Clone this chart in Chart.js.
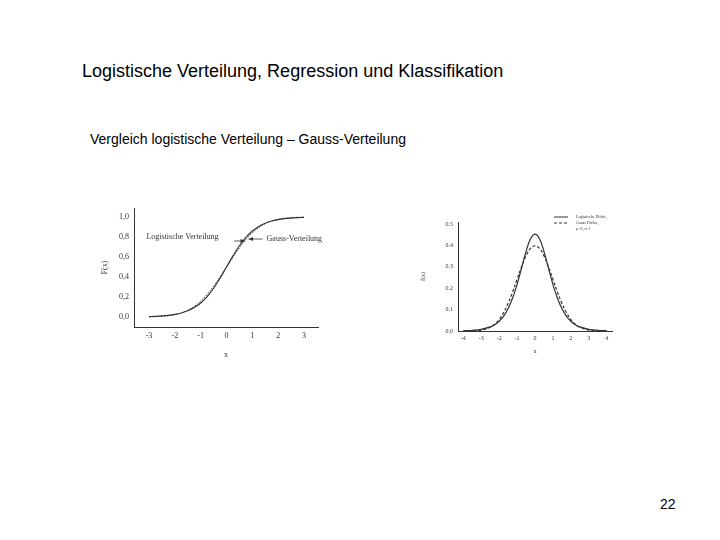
<!DOCTYPE html>
<html>
<head>
<meta charset="utf-8">
<script src="https://cdn.jsdelivr.net/npm/chart.js@4"></script>
<style>
  body { margin: 0; width: 720px; height: 540px; background: #fff; position: relative; font-family: "Liberation Sans", Arial, sans-serif; }
  .title { position: absolute; left: 82px; top: 61px; font-size: 18px; color: #000; }
  .sub { position: absolute; left: 90px; top: 131px; font-size: 14px; color: #000; }
  .page { position: absolute; left: 660px; top: 496px; font-size: 14px; color: #000; }
  #cdf { position: absolute; left: 100px; top: 200px; }
  #pdf { position: absolute; left: 420px; top: 205px; }
</style>
</head>
<body>
<div class="title">Logistische Verteilung, Regression und Klassifikation</div>
<div class="sub">Vergleich logistische Verteilung – Gauss-Verteilung</div>
<div class="page">22</div>
<canvas id="cdf" width="240" height="160"></canvas>
<canvas id="pdf" width="200" height="150"></canvas>
<script>
// left chart: distribution functions
const cdfX = [-3, -2.75, -2.5, -2.25, -2, -1.75, -1.5, -1.25, -1, -0.75, -0.5, -0.25, 0,
  0.25, 0.5, 0.75, 1, 1.25, 1.5, 1.75, 2, 2.25, 2.5, 2.75, 3]
const cdfLogistic = [0.0043, 0.0068, 0.0106, 0.0166, 0.0259, 0.0401, 0.0618, 0.0939, 0.140, 0.2042, 0.2876, 0.3885, 0.5,
  0.6115, 0.7124, 0.7958, 0.860, 0.9061, 0.9382, 0.9599, 0.9741, 0.9834, 0.9894, 0.9932, 0.9957]
const cdfGauss = [0.0013, 0.0030, 0.0062, 0.0122, 0.0228, 0.0401, 0.0668, 0.1056, 0.1587, 0.2266, 0.3085, 0.4013, 0.5,
  0.5987, 0.6915, 0.7734, 0.8413, 0.8944, 0.9332, 0.9599, 0.9772, 0.9878, 0.9938, 0.9970, 0.9987]
const cdfXTicks = [-3, -2, -1, 0, 1, 2, 3]
const cdfYTicks = [0, 0.2, 0.4, 0.6, 0.8, 1.0]

// right chart: densities
const pdfX = [-4, -3.5, -3, -2.5, -2.25, -2, -1.75, -1.5, -1.25, -1, -0.75, -0.5, -0.25, 0,
  0.25, 0.5, 0.75, 1, 1.25, 1.5, 1.75, 2, 2.25, 2.5, 3, 3.5, 4]
const pdfLogistic = [0.0013, 0.0032, 0.0078, 0.0190, 0.0296, 0.0458, 0.0699, 0.1052, 0.1544, 0.2185, 0.2949, 0.3718, 0.4312, 0.4535,
  0.4312, 0.3718, 0.2949, 0.2185, 0.1544, 0.1052, 0.0699, 0.0458, 0.0296, 0.0190, 0.0078, 0.0032, 0.0013]
const pdfGauss = [0.0001, 0.0009, 0.0044, 0.0175, 0.0317, 0.0540, 0.0863, 0.1295, 0.1826, 0.2420, 0.3011, 0.3521, 0.3867, 0.3989,
  0.3867, 0.3521, 0.3011, 0.2420, 0.1826, 0.1295, 0.0863, 0.0540, 0.0317, 0.0175, 0.0044, 0.0009, 0.0001]
const pdfXTicks = [-4, -3, -2, -1, 0, 1, 2, 3, 4]
const pdfYTicks = [0, 0.1, 0.2, 0.3, 0.4, 0.5]

const serif = '"Liberation Serif", "DejaVu Serif", serif'
const ink = '#333'

function points(xs, ys) {
  return xs.map((x, i) => ({ x: x, y: ys[i] }))
}

function fixedTicks(values) {
  return (scale) => { scale.ticks = values.map(v => ({ value: v })) }
}

function arrow(ctx, x1, y1, x2, y2) {
  ctx.beginPath()
  ctx.moveTo(x1, y1)
  ctx.lineTo(x2, y2)
  ctx.stroke()
  const a = Math.atan2(y2 - y1, x2 - x1)
  ctx.beginPath()
  ctx.moveTo(x2, y2)
  ctx.lineTo(x2 - 5 * Math.cos(a - 0.4), y2 - 5 * Math.sin(a - 0.4))
  ctx.lineTo(x2 - 5 * Math.cos(a + 0.4), y2 - 5 * Math.sin(a + 0.4))
  ctx.closePath()
  ctx.fill()
}

const cdfLabels = {
  id: 'cdfLabels',
  afterDraw(chart) {
    const { ctx, scales: { x, y } } = chart
    ctx.save()
    ctx.fillStyle = ink
    ctx.strokeStyle = ink
    ctx.lineWidth = 0.8
    ctx.font = '8px ' + serif
    ctx.textBaseline = 'middle'
    ctx.textAlign = 'left'
    ctx.fillText('Logistische Verteilung', x.getPixelForValue(-3.1), y.getPixelForValue(0.80))
    arrow(ctx, x.getPixelForValue(0.3), y.getPixelForValue(0.76), x.getPixelForValue(0.72), y.getPixelForValue(0.76))
    ctx.fillText('Gauss-Verteilung', x.getPixelForValue(1.55), y.getPixelForValue(0.78))
    arrow(ctx, x.getPixelForValue(1.4), y.getPixelForValue(0.78), x.getPixelForValue(0.85), y.getPixelForValue(0.78))
    ctx.restore()
  }
}

const pdfLegend = {
  id: 'pdfLegend',
  afterDraw(chart) {
    const { ctx, chartArea } = chart
    const x0 = chartArea.right - 58
    const y0 = chartArea.top - 5
    ctx.save()
    ctx.strokeStyle = ink
    ctx.fillStyle = ink
    ctx.lineWidth = 1
    ctx.beginPath(); ctx.moveTo(x0, y0); ctx.lineTo(x0 + 14, y0); ctx.stroke()
    ctx.setLineDash([3, 2])
    ctx.beginPath(); ctx.moveTo(x0, y0 + 6); ctx.lineTo(x0 + 14, y0 + 6); ctx.stroke()
    ctx.setLineDash([])
    ctx.font = '4px ' + serif
    ctx.textBaseline = 'middle'
    ctx.fillText('Logistische Dichte,', x0 + 22, y0)
    ctx.fillText('Gauss Dichte,', x0 + 22, y0 + 6)
    ctx.fillText('μ=0, σ=1', x0 + 22, y0 + 12)
    ctx.restore()
  }
}

function axes(xMin, xMax, yMin, yMax, xTicks, yTicks, yTitle, fmt, size, yWidth, xHeight) {
  return {
    x: {
      type: 'linear', min: xMin, max: xMax,
      afterBuildTicks: fixedTicks(xTicks),
      afterFit: (s) => { s.height = xHeight },
      grid: { display: false, drawTicks: true, tickLength: 3, color: ink },
      border: { display: true, color: ink, width: 1 },
      ticks: { color: ink, font: { family: serif, size: size }, padding: 1, maxRotation: 0, callback: (v) => String(v) },
      title: { display: true, text: 'x', color: ink, font: { family: serif, size: size }, padding: 0 }
    },
    y: {
      min: yMin, max: yMax,
      afterBuildTicks: fixedTicks(yTicks),
      afterFit: (s) => { s.width = yWidth },
      grid: { display: false, drawTicks: true, tickLength: 3, color: ink },
      border: { display: true, color: ink, width: 1 },
      ticks: { color: ink, font: { family: serif, size: size }, padding: 2, callback: fmt },
      title: { display: true, text: yTitle, color: ink, font: { family: serif, size: size }, padding: 0 }
    }
  }
}

new Chart(document.getElementById('cdf'), {
  type: 'line',
  data: {
    datasets: [
      { label: 'Logistische Verteilung', data: points(cdfX, cdfLogistic), borderColor: ink, borderWidth: 1.2, pointRadius: 0, tension: 0.4 },
      { label: 'Gauss-Verteilung', data: points(cdfX, cdfGauss), borderColor: ink, borderWidth: 1, borderDash: [1.5, 1.5], pointRadius: 0, tension: 0.4 }
    ]
  },
  plugins: [cdfLabels],
  options: {
    responsive: false, animation: false,
    layout: { padding: { top: 8, right: 22, left: 0, bottom: 0 } },
    plugins: { legend: { display: false }, tooltip: { enabled: false } },
    scales: axes(-3.58, 3.54, -0.1, 1.09, cdfXTicks, cdfYTicks, 'F(x)',
      (v) => v.toFixed(1).replace('.', ','), 8, 34, 33)
  }
})

new Chart(document.getElementById('pdf'), {
  type: 'line',
  data: {
    datasets: [
      { label: 'Logistische Dichte', data: points(pdfX, pdfLogistic), borderColor: ink, borderWidth: 1.2, pointRadius: 0, tension: 0.4 },
      { label: 'Gauss Dichte', data: points(pdfX, pdfGauss), borderColor: ink, borderWidth: 1.2, borderDash: [3, 2], pointRadius: 0, tension: 0.4 }
    ]
  },
  plugins: [pdfLegend],
  options: {
    responsive: false, animation: false,
    layout: { padding: { top: 17, right: 8, left: 0, bottom: 0 } },
    plugins: { legend: { display: false }, tooltip: { enabled: false } },
    scales: axes(-4.3, 4.3, 0, 0.51, pdfXTicks, pdfYTicks, 'f(x)',
      (v) => v.toFixed(1), 6, 38, 24)
  }
})
</script>
</body>
</html>
